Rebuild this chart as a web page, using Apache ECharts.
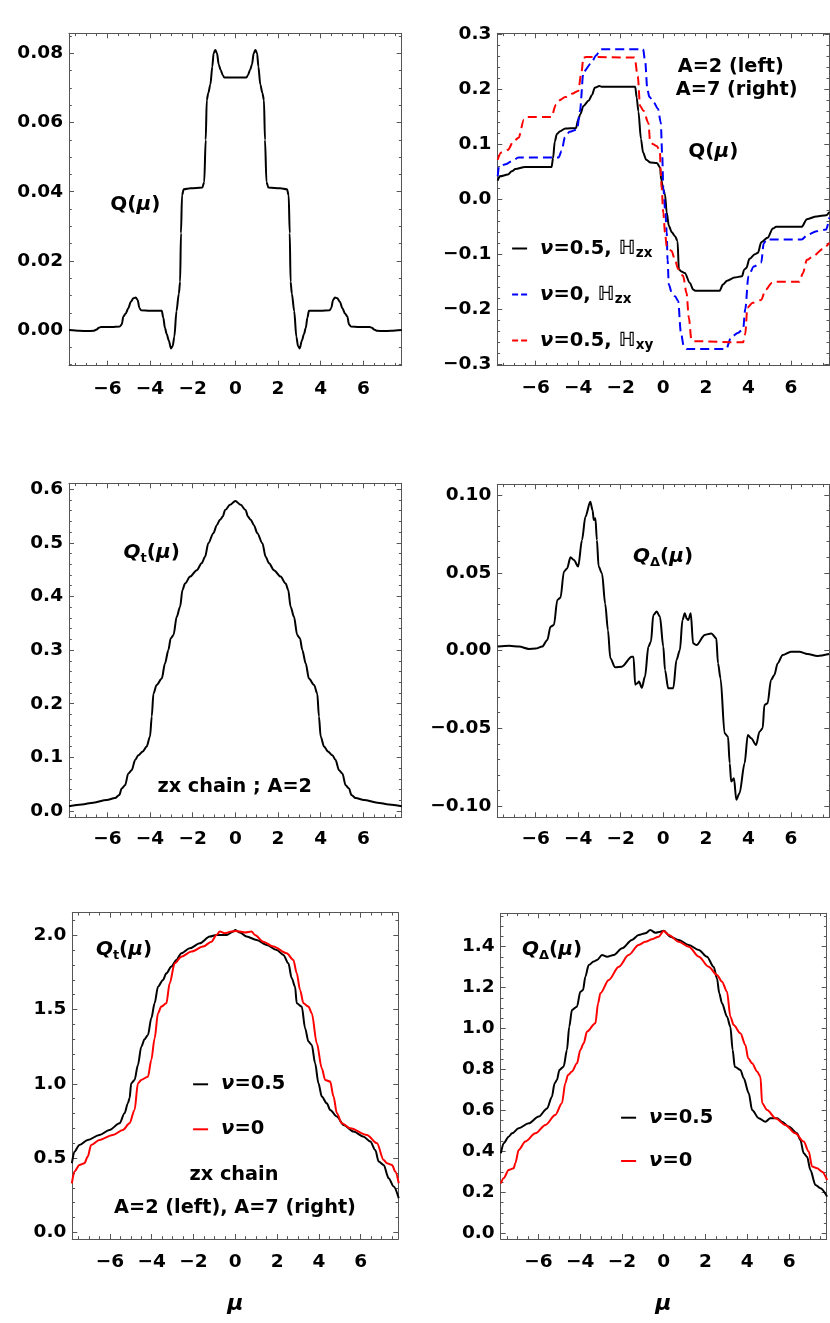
<!DOCTYPE html>
<html><head><meta charset="utf-8">
<script src="https://cdn.jsdelivr.net/npm/echarts@6/dist/echarts.min.js"></script>
<style>html,body{margin:0;padding:0;background:#fff}#c{width:830px;height:1323px}</style>
</head><body><div id="c"></div>
<script>
// ---------------- DATA ----------------
const X_MAJOR = [-6, -4, -2, 0, 2, 4, 6];
const Y1_MAJOR = [0, 0.02, 0.04, 0.06, 0.08];
const Y2_MAJOR = [-0.3, -0.2, -0.1, 0, 0.1, 0.2, 0.3];
const Y3_MAJOR = [0, 0.1, 0.2, 0.3, 0.4, 0.5, 0.6];
const Y4_MAJOR = [-0.1, -0.05, 0, 0.05, 0.1];
const Y5_MAJOR = [0, 0.5, 1.0, 1.5, 2.0];
const Y6_MAJOR = [0, 0.2, 0.4, 0.6, 0.8, 1.0, 1.2, 1.4];

// panel 1: Q(mu), zx chain A=2
const p1Q = [[-7.8,0.0000],[-7.3,-0.0002],[-6.95,-0.0003],[-6.65,-0.0002],[-6.5,0.0002],[-6.4,0.0007],[-6.3,0.0009],[-5.8,0.0009],[-5.42,0.0010],[-5.33,0.0016],[-5.25,0.0039],[-5.14,0.0048],[-5.02,0.0063],[-4.9,0.0082],[-4.78,0.0092],[-4.67,0.0094],[-4.58,0.0087],[-4.5,0.0064],[-4.42,0.0057],[-4.0,0.0056],[-3.45,0.0056],[-3.38,0.0036],[-3.3,0.0006],[-3.22,-0.0011],[-3.12,-0.0030],[-3.02,-0.0053],[-2.94,-0.0047],[-2.86,-0.0019],[-2.76,0.0055],[-2.65,0.0105],[-2.59,0.0140],[-2.55,0.0280],[-2.5,0.0390],[-2.42,0.0407],[-2.1,0.0410],[-1.55,0.0412],[-1.46,0.0428],[-1.39,0.0550],[-1.34,0.0665],[-1.27,0.0685],[-1.17,0.0710],[-1.08,0.0762],[-1.02,0.0800],[-0.94,0.0810],[-0.86,0.0800],[-0.78,0.0768],[-0.69,0.0752],[-0.59,0.0737],[-0.52,0.0730],[0,0.0730],
  [0.52,0.0730],[0.59,0.0737],[0.69,0.0752],[0.78,0.0768],[0.86,0.0800],[0.94,0.0810],[1.02,0.0800],[1.08,0.0762],[1.17,0.0710],[1.27,0.0685],[1.34,0.0665],[1.39,0.0550],[1.46,0.0428],[1.55,0.0412],[2.1,0.0410],[2.42,0.0407],[2.5,0.0390],[2.55,0.0280],[2.59,0.0140],[2.65,0.0105],[2.76,0.0055],[2.86,-0.0019],[2.94,-0.0047],[3.02,-0.0053],[3.12,-0.0030],[3.22,-0.0011],[3.3,0.0006],[3.38,0.0036],[3.45,0.0056],[4.0,0.0056],[4.42,0.0057],[4.5,0.0064],[4.58,0.0087],[4.67,0.0094],[4.78,0.0092],[4.9,0.0082],[5.02,0.0063],[5.14,0.0048],[5.25,0.0039],[5.33,0.0016],[5.42,0.0010],[5.8,0.0009],[6.3,0.0009],[6.4,0.0007],[6.5,0.0002],[6.65,-0.0002],[6.95,-0.0003],[7.3,-0.0002],[7.8,0.0000]];

// panel 2: Q(mu) for three cases
const p2BlackHzx = [[-7.78,0.034],[-7.68,0.042],[-7.3,0.045],[-7.12,0.051],[-6.95,0.055],[-6.5,0.059],[-5.25,0.059],[-5.18,0.075],[-5.1,0.105],[-5.0,0.119],[-4.85,0.124],[-4.6,0.129],[-4.1,0.130],[-4.0,0.145],[-3.9,0.155],[-3.75,0.170],[-3.5,0.180],[-3.35,0.190],[-3.22,0.203],[-3.0,0.206],[-2.9,0.205],[-1.32,0.205],[-1.25,0.185],[-1.17,0.160],[-1.05,0.110],[-0.95,0.085],[-0.8,0.072],[-0.6,0.067],[-0.3,0.066],[-0.15,0.058],[-0.1,0.036],[0.0,0.018],[0.08,0.009],[0.16,-0.024],[0.26,-0.048],[0.4,-0.060],[0.55,-0.067],[0.67,-0.076],[0.73,-0.127],[0.85,-0.131],[1.01,-0.134],[1.25,-0.152],[1.4,-0.164],[1.5,-0.166],[2.65,-0.166],[2.8,-0.155],[3.0,-0.148],[3.35,-0.142],[3.7,-0.140],[3.8,-0.128],[3.9,-0.125],[4.05,-0.108],[4.3,-0.100],[4.45,-0.097],[4.6,-0.078],[4.9,-0.070],[5.15,-0.053],[5.3,-0.050],[6.5,-0.050],[6.75,-0.036],[7.2,-0.031],[7.65,-0.029],[7.8,-0.023]];
const p2BlueHzx = [[-7.78,0.042],[-7.72,0.060],[-7.4,0.064],[-7.1,0.070],[-6.8,0.076],[-4.92,0.076],[-4.78,0.088],[-4.62,0.113],[-4.4,0.123],[-4.05,0.127],[-3.92,0.160],[-3.75,0.232],[-3.4,0.247],[-3.15,0.262],[-2.95,0.273],[-0.95,0.273],[-0.85,0.250],[-0.75,0.200],[-0.65,0.186],[-0.45,0.176],[-0.25,0.165],[-0.12,0.140],[-0.05,0.080],[0.0,0.020],[0.1,-0.025],[0.16,-0.060],[0.2,-0.110],[0.26,-0.155],[0.4,-0.170],[0.55,-0.176],[0.7,-0.185],[0.82,-0.240],[0.95,-0.265],[1.1,-0.272],[2.95,-0.272],[3.2,-0.250],[3.5,-0.243],[3.75,-0.236],[3.85,-0.200],[4.0,-0.140],[4.25,-0.122],[4.6,-0.115],[4.72,-0.080],[4.85,-0.073],[6.5,-0.073],[6.8,-0.064],[7.2,-0.058],[7.65,-0.055],[7.8,-0.033]];
const p2RedHxy = [[-7.78,0.072],[-7.62,0.085],[-7.3,0.090],[-7.05,0.105],[-6.8,0.112],[-6.55,0.145],[-6.4,0.150],[-5.25,0.150],[-5.05,0.172],[-4.9,0.180],[-4.6,0.186],[-4.3,0.192],[-4.0,0.197],[-3.85,0.230],[-3.75,0.258],[-3.6,0.259],[-1.35,0.258],[-1.2,0.224],[-1.09,0.170],[-0.93,0.161],[-0.7,0.139],[-0.62,0.106],[-0.47,0.100],[-0.31,0.097],[-0.16,0.088],[-0.12,0.050],[-0.08,0.020],[0.0,-0.024],[0.08,-0.060],[0.16,-0.085],[0.39,-0.094],[0.55,-0.110],[0.7,-0.127],[0.93,-0.139],[1.09,-0.170],[1.2,-0.215],[1.32,-0.255],[1.45,-0.258],[3.75,-0.260],[3.85,-0.245],[3.95,-0.197],[4.2,-0.188],[4.6,-0.183],[4.8,-0.165],[5.1,-0.152],[5.25,-0.150],[6.4,-0.150],[6.55,-0.135],[6.75,-0.110],[7.05,-0.103],[7.5,-0.090],[7.8,-0.079]];

// panel 3: Q_t(mu), zx chain A=2
const p3Qt = [[-7.8,0.009],[-7.2,0.012],[-6.66,0.0155],[-6.03,0.0205],[-5.64,0.024],[-5.44,0.030],[-5.33,0.042],[-5.17,0.048],[-5.02,0.070],[-4.86,0.076],[-4.7,0.095],[-4.55,0.104],[-4.34,0.111],[-4.16,0.120],[-4.0,0.139],[-3.92,0.176],[-3.84,0.219],[-3.69,0.235],[-3.45,0.247],[-3.3,0.275],[-3.14,0.300],[-3.03,0.322],[-2.9,0.328],[-2.75,0.362],[-2.59,0.381],[-2.48,0.412],[-2.36,0.424],[-2.12,0.437],[-1.81,0.449],[-1.58,0.462],[-1.42,0.474],[-1.27,0.499],[-1.03,0.518],[-0.87,0.533],[-0.72,0.543],[-0.59,0.549],[-0.48,0.561],[-0.25,0.571],[0,0.578],
  [0.25,0.571],[0.48,0.561],[0.59,0.549],[0.72,0.543],[0.87,0.533],[1.03,0.518],[1.27,0.499],[1.42,0.474],[1.58,0.462],[1.81,0.449],[2.12,0.437],[2.36,0.424],[2.48,0.412],[2.59,0.381],[2.75,0.362],[2.9,0.328],[3.03,0.322],[3.14,0.300],[3.3,0.275],[3.45,0.247],[3.69,0.235],[3.84,0.219],[3.92,0.176],[4.0,0.139],[4.16,0.120],[4.34,0.111],[4.55,0.104],[4.7,0.095],[4.86,0.076],[5.02,0.070],[5.17,0.048],[5.33,0.042],[5.44,0.030],[5.64,0.024],[6.03,0.0205],[6.66,0.0155],[7.2,0.012],[7.8,0.009]];

// panel 4: Q_Delta(mu), zx chain A=2
const p4Qd = [[-7.78,0.0025],[-7.24,0.0031],[-6.78,0.0025],[-6.31,0.0010],[-6.0,0.0012],[-5.69,0.0025],[-5.45,0.0068],[-5.3,0.0153],[-5.14,0.0164],[-4.98,0.0325],[-4.83,0.034],[-4.67,0.0507],[-4.52,0.0528],[-4.36,0.060],[-4.2,0.0582],[-4.0,0.054],[-3.82,0.071],[-3.66,0.086],[-3.43,0.0957],[-3.32,0.090],[-3.27,0.084],[-3.19,0.085],[-3.12,0.071],[-3.04,0.054],[-2.88,0.0496],[-2.73,0.030],[-2.6,0.013],[-2.49,-0.005],[-2.26,-0.0108],[-1.95,-0.0104],[-1.48,-0.004],[-1.4,-0.004],[-1.32,-0.022],[-1.22,-0.021],[-1.14,-0.020],[-1.01,-0.024],[-0.86,-0.0168],[-0.7,0.0025],[-0.58,0.0057],[-0.47,0.0228],[-0.31,0.025],[-0.16,0.0218],[0,0.0025],[0.08,-0.0125],[0.23,-0.0243],[0.47,-0.0243],[0.62,-0.006],[0.78,0.0003],[0.9,0.0196],[1.01,0.0239],[1.1,0.0205],[1.17,0.0196],[1.29,0.0239],[1.4,0.0046],[1.56,0.0035],[1.95,0.010],[2.26,0.011],[2.49,0.0078],[2.57,-0.0082],[2.69,-0.018],[2.88,-0.0533],[3.04,-0.0554],[3.12,-0.0726],[3.19,-0.0843],[3.32,-0.0822],[3.43,-0.096],[3.58,-0.0918],[3.82,-0.0726],[3.97,-0.0543],[4.13,-0.0565],[4.36,-0.0608],[4.52,-0.0522],[4.67,-0.050],[4.75,-0.035],[4.9,-0.034],[5.06,-0.019],[5.22,-0.0157],[5.37,-0.0083],[5.61,-0.0029],[6.0,-0.0008],[6.39,-0.0008],[6.78,-0.0023],[7.24,-0.0035],[7.79,-0.0023]];

// panel 5: Q_t(mu), zx chain, A=2 (left), A=7 (right)
const p5QtNu05 = [[-7.82,0.465],[-7.7,0.543],[-7.46,0.588],[-7.06,0.622],[-6.5,0.655],[-6.02,0.689],[-5.54,0.734],[-5.3,0.801],[-5.14,0.869],[-5.06,0.902],[-4.98,1.003],[-4.82,1.026],[-4.66,1.127],[-4.5,1.250],[-4.34,1.300],[-4.18,1.329],[-4.02,1.441],[-3.86,1.542],[-3.7,1.654],[-3.46,1.699],[-3.3,1.744],[-3.06,1.789],[-2.82,1.834],[-2.58,1.879],[-2.18,1.912],[-1.7,1.946],[-1.22,1.991],[-0.9,2.002],[-0.42,2.002],[-0.1,2.025],[0,2.036],[0.22,2.018],[0.54,1.991],[1.02,1.969],[1.5,1.935],[1.98,1.901],[2.3,1.868],[2.54,1.811],[2.7,1.711],[2.86,1.654],[2.94,1.542],[3.18,1.520],[3.34,1.374],[3.5,1.284],[3.66,1.262],[3.82,1.138],[3.98,1.003],[4.14,0.914],[4.38,0.869],[4.54,0.824],[4.86,0.779],[5.18,0.723],[5.66,0.678],[6.14,0.644],[6.46,0.611],[6.7,0.554],[6.86,0.476],[7.1,0.453],[7.34,0.364],[7.58,0.308],[7.82,0.229]];
const p5QtNu0 = [[-7.82,0.330],[-7.7,0.409],[-7.46,0.453],[-7.22,0.465],[-7.06,0.510],[-6.9,0.588],[-6.5,0.622],[-5.86,0.655],[-5.38,0.689],[-5.06,0.734],[-4.82,0.824],[-4.66,1.003],[-4.5,1.026],[-4.18,1.048],[-4.02,1.160],[-3.86,1.306],[-3.7,1.475],[-3.54,1.520],[-3.3,1.542],[-3.14,1.677],[-2.9,1.811],[-2.58,1.856],[-2.1,1.890],[-1.54,1.924],[-1.14,1.957],[-0.9,2.002],[-0.74,2.025],[-0.5,2.014],[-0.18,2.025],[0,2.029],[0.22,2.025],[0.46,2.018],[0.78,2.025],[0.94,2.002],[1.34,1.957],[1.82,1.924],[2.46,1.879],[2.78,1.834],[2.94,1.744],[3.1,1.632],[3.26,1.542],[3.5,1.520],[3.66,1.475],[3.9,1.273],[4.14,1.104],[4.3,1.026],[4.54,1.015],[4.7,0.914],[4.86,0.801],[5.1,0.734],[5.5,0.700],[6.3,0.655],[6.78,0.599],[7.1,0.487],[7.26,0.465],[7.5,0.453],[7.66,0.409],[7.82,0.330]];

// panel 6: Q_Delta(mu)
const p6QdNu05 = [[-7.79,0.391],[-7.66,0.440],[-7.42,0.472],[-7.26,0.488],[-6.94,0.513],[-6.46,0.537],[-5.98,0.570],[-5.58,0.610],[-5.35,0.667],[-5.22,0.733],[-5.11,0.749],[-4.99,0.798],[-4.79,0.814],[-4.63,0.895],[-4.52,1.009],[-4.39,1.091],[-4.15,1.107],[-3.99,1.180],[-3.86,1.188],[-3.75,1.253],[-3.59,1.310],[-3.35,1.327],[-3.19,1.335],[-2.95,1.359],[-2.71,1.351],[-2.39,1.359],[-1.99,1.392],[-1.52,1.433],[-1.2,1.457],[-0.88,1.465],[-0.64,1.481],[-0.4,1.468],[-0.16,1.473],[0,1.478],[0.32,1.449],[0.72,1.433],[1.2,1.408],[1.68,1.384],[2.07,1.351],[2.39,1.302],[2.55,1.245],[2.66,1.172],[2.79,1.123],[3.03,1.058],[3.19,1.009],[3.3,0.895],[3.4,0.814],[3.67,0.798],[3.83,0.757],[4.07,0.684],[4.23,0.602],[4.55,0.562],[4.87,0.545],[5.1,0.562],[5.43,0.562],[5.66,0.545],[5.98,0.521],[6.38,0.488],[6.54,0.456],[6.7,0.391],[6.86,0.374],[7.02,0.309],[7.26,0.236],[7.5,0.220],[7.82,0.179]];
const p6QdNu0 = [[-7.79,0.244],[-7.66,0.269],[-7.42,0.309],[-7.18,0.317],[-7.1,0.342],[-6.94,0.407],[-6.62,0.448],[-6.14,0.488],[-5.66,0.529],[-5.19,0.578],[-4.87,0.635],[-4.71,0.733],[-4.58,0.773],[-4.39,0.790],[-4.15,0.830],[-3.99,0.895],[-3.83,0.928],[-3.67,0.985],[-3.27,1.026],[-3.14,1.123],[-3.03,1.172],[-2.63,1.237],[-2.15,1.302],[-1.68,1.359],[-1.2,1.408],[-0.88,1.424],[-0.56,1.436],[-0.24,1.449],[0,1.477],[0.24,1.457],[0.72,1.424],[1.2,1.400],[1.68,1.351],[2.15,1.302],[2.55,1.262],[2.79,1.229],[3.03,1.180],[3.19,1.058],[3.35,1.017],[3.67,0.977],[3.91,0.920],[4.04,0.855],[4.23,0.830],[4.47,0.790],[4.63,0.765],[4.71,0.635],[4.95,0.602],[5.35,0.562],[5.82,0.529],[6.3,0.488],[6.7,0.448],[6.94,0.399],[7.1,0.326],[7.34,0.317],[7.58,0.301],[7.82,0.260]];

// ---------------- LAYOUT / STYLE ----------------
const FF = "'DejaVu Sans', sans-serif";
const FRAME = '#555';
const TICKFS = 18.5;
function ticksBetween(lo, hi, step) {
  const out = [];
  const a = Math.ceil(lo / step - 1e-9), b = Math.floor(hi / step + 1e-9);
  for (let k = a; k <= b; k++) out.push(+(k * step).toFixed(6));
  return out;
}
function fmt(dec) {
  return function (v) {
    const s = Math.abs(v).toFixed(dec);
    return (v < 0 && Math.abs(v) > 1e-9 ? '\u2212' : '') + s;
  };
}
const XMIN = -7.8, XMAX = 7.8;
const panels = [
  {left:69, top:33.3, width:332.7, height:332.4, ymin:-0.0103, ymax:0.0858, yMajor:Y1_MAJOR, yMinor:0.005, dec:2, xm:13.5},
  {left:497.3, top:33.3, width:332, height:332.4, ymin:-0.3025, ymax:0.302, yMajor:Y2_MAJOR, yMinor:0.02, dec:1, xm:12.5},
  {left:69, top:483.3, width:332.7, height:334, ymin:-0.0118, ymax:0.611, yMajor:Y3_MAJOR, yMinor:0.02, dec:1, xm:12.5},
  {left:497.3, top:484.3, width:332, height:333, ymin:-0.1073, ymax:0.1069, yMajor:Y4_MAJOR, yMinor:0.01, dec:2, xm:12.5},
  {left:72.3, top:912.7, width:326, height:326.3, ymin:-0.045, ymax:2.152, yMajor:Y5_MAJOR, yMinor:0.1, dec:1, xm:13.5},
  {left:500.7, top:913.3, width:326, height:325.7, ymin:-0.028, ymax:1.563, yMajor:Y6_MAJOR, yMinor:0.05, dec:1, xm:13.5}
];
const xMinorTicks = ticksBetween(XMIN, XMAX, 0.5);

const grids = [], xAxes = [], yAxes = [];
panels.forEach((p, i) => {
  grids.push({left:p.left, top:p.top, width:p.width, height:p.height, containLabel:false});
  const yMinorTicks = ticksBetween(p.ymin, p.ymax, p.yMinor);
  const lblStyle = {fontFamily:FF, fontWeight:'bold', fontSize:TICKFS, color:'#000'};
  const baseX = {gridIndex:i, type:'value', min:XMIN, max:XMAX, splitLine:{show:false}, minorTick:{show:false}};
  const baseY = {gridIndex:i, type:'value', min:p.ymin, max:p.ymax, splitLine:{show:false}, minorTick:{show:false}};
  ['bottom','top'].forEach(pos => {
    xAxes.push(Object.assign({}, baseX, {position:pos,
      axisLine:{show:true, onZero:false, lineStyle:{color:FRAME, width:1}},
      axisTick:{show:true, inside:true, length:5, customValues:X_MAJOR, lineStyle:{color:FRAME, width:1}},
      axisLabel:pos === 'bottom' ? Object.assign({show:true, customValues:X_MAJOR, formatter:fmt(0), margin:p.xm}, lblStyle) : {show:false}}));
    xAxes.push(Object.assign({}, baseX, {position:pos,
      axisLine:{show:false, onZero:false},
      axisTick:{show:true, inside:true, length:2.8, customValues:xMinorTicks, lineStyle:{color:FRAME, width:1}},
      axisLabel:{show:false}}));
  });
  ['left','right'].forEach(pos => {
    yAxes.push(Object.assign({}, baseY, {position:pos,
      axisLine:{show:true, onZero:false, lineStyle:{color:FRAME, width:1}},
      axisTick:{show:true, inside:true, length:5, customValues:p.yMajor, lineStyle:{color:FRAME, width:1}},
      axisLabel:pos === 'left' ? Object.assign({show:true, customValues:p.yMajor, formatter:fmt(p.dec), margin:6}, lblStyle) : {show:false}}));
    yAxes.push(Object.assign({}, baseY, {position:pos,
      axisLine:{show:false, onZero:false},
      axisTick:{show:true, inside:true, length:2.8, customValues:yMinorTicks, lineStyle:{color:FRAME, width:1}},
      axisLabel:{show:false}}));
  });
});

function line(name, panel, data, color, type) {
  return {name:name, type:'line', xAxisIndex:panel * 4, yAxisIndex:panel * 4, data:data,
    symbol:'none', showSymbol:false, smooth:0.3, smoothMonotone:'x', silent:true,
    lineStyle:{color:color, width:2, type:type || 'solid'}, itemStyle:{color:color}};
}
const series = [
  line('p1', 0, p1Q, '#000'),
  line('p2a', 1, p2BlackHzx, '#000'),
  line('p2b', 1, p2BlueHzx, '#0000ff', [9, 5]),
  line('p2c', 1, p2RedHxy, '#ff0000', [9, 5]),
  line('p3', 2, p3Qt, '#000'),
  line('p4', 3, p4Qd, '#000'),
  line('p5a', 4, p5QtNu05, '#000'),
  line('p5b', 4, p5QtNu0, '#ff0000'),
  line('p6a', 5, p6QdNu05, '#000'),
  line('p6b', 5, p6QdNu0, '#ff0000')
];

const legRich = {
  i0:{fontFamily:FF, fontWeight:'bold', fontStyle:'italic', fontSize:19.5, color:'#000', lineHeight:24, padding:[0,0,0,8]},
  b:{fontFamily:FF, fontWeight:'bold', fontSize:19.5, color:'#000', lineHeight:24},
  s:{fontFamily:FF, fontWeight:'bold', fontSize:13.5, color:'#000', lineHeight:16, verticalAlign:'bottom'}
};
const legendLabels = {
  p2a:'{i0|\u03bd}{b|=0.5, \u210d}{s|zx}',
  p2b:'{i0|\u03bd}{b|=0, \u210d}{s|zx}',
  p2c:'{i0|\u03bd}{b|=0.5, \u210d}{s|xy}',
  p5a:'{i0|\u03bd}{b|=0.5}', p5b:'{i0|\u03bd}{b|=0}',
  p6a:'{i0|\u03bd}{b|=0.5}', p6b:'{i0|\u03bd}{b|=0}'
};
function legend(left, top, gap, data) {
  return {left:left, top:top, orient:'vertical', itemWidth:15, itemHeight:24, itemGap:gap,
    selectedMode:false, padding:0, data:data, itemStyle:{opacity:0},
    formatter:n => legendLabels[n], textStyle:{rich:legRich}};
}
const legends = [
  legend(510, 238.5, 24, [{name:'p2a'}, {name:'p2b', lineStyle:{type:[6,3]}}, {name:'p2c', lineStyle:{type:[6,3]}}]),
  legend(191, 1074.3, 25, [{name:'p5a'}, {name:'p5b'}]),
  legend(619, 1107.7, 23.3, [{name:'p6a'}, {name:'p6b'}])
];

const R = {
  b:{fontFamily:FF, fontWeight:'bold', fontSize:20, fill:'#000', lineHeight:24},
  i:{fontFamily:FF, fontWeight:'bold', fontStyle:'italic', fontSize:20, fill:'#000', lineHeight:24},
  s:{fontFamily:FF, fontWeight:'bold', fontSize:13, fill:'#000', lineHeight:16, verticalAlign:'bottom'},
  a:{fontFamily:FF, fontWeight:'bold', fontSize:19.3, fill:'#000', lineHeight:24},
  m:{fontFamily:FF, fontWeight:'bold', fontStyle:'italic', fontSize:22, fill:'#000', lineHeight:26}
};
function txt(x, y, t) {
  return {type:'text', x:x, y:y, silent:true, z:100,
    style:{text:t, rich:R, align:'center', verticalAlign:'middle', textAlign:'center', textVerticalAlign:'middle', fill:'#000'}};
}
const graphics = [
  txt(135.3, 205, '{b|Q(}{i|\u03bc}{b|)}'),
  txt(730.8, 66.7, '{a|A=2 (left)}'),
  txt(736.7, 90, '{a|A=7 (right)}'),
  txt(713.3, 151.7, '{b|Q(}{i|\u03bc}{b|)}'),
  txt(151.7, 553, '{i|Q}{s|t}{b|(}{i|\u03bc}{b|)}'),
  txt(234.7, 786.7, '{a|zx chain ; A=2}'),
  txt(663, 556.7, '{i|Q}{s|\u0394}{b|(}{i|\u03bc}{b|)}'),
  txt(124, 950, '{i|Q}{s|t}{b|(}{i|\u03bc}{b|)}'),
  txt(234, 1175, '{a|zx chain}'),
  txt(235, 1208.3, '{a|A=2 (left), A=7 (right)}'),
  txt(552, 950, '{i|Q}{s|\u0394}{b|(}{i|\u03bc}{b|)}'),
  txt(235.3, 1304, '{m|\u03bc}'),
  txt(663.3, 1304, '{m|\u03bc}')
];

const chart = echarts.init(document.getElementById('c'), null, {renderer:'canvas'});
chart.setOption({
  animation:false,
  backgroundColor:'#fff',
  grid:grids, xAxis:xAxes, yAxis:yAxes,
  legend:legends,
  series:series,
  graphic:{elements:graphics}
});
</script></body></html>
